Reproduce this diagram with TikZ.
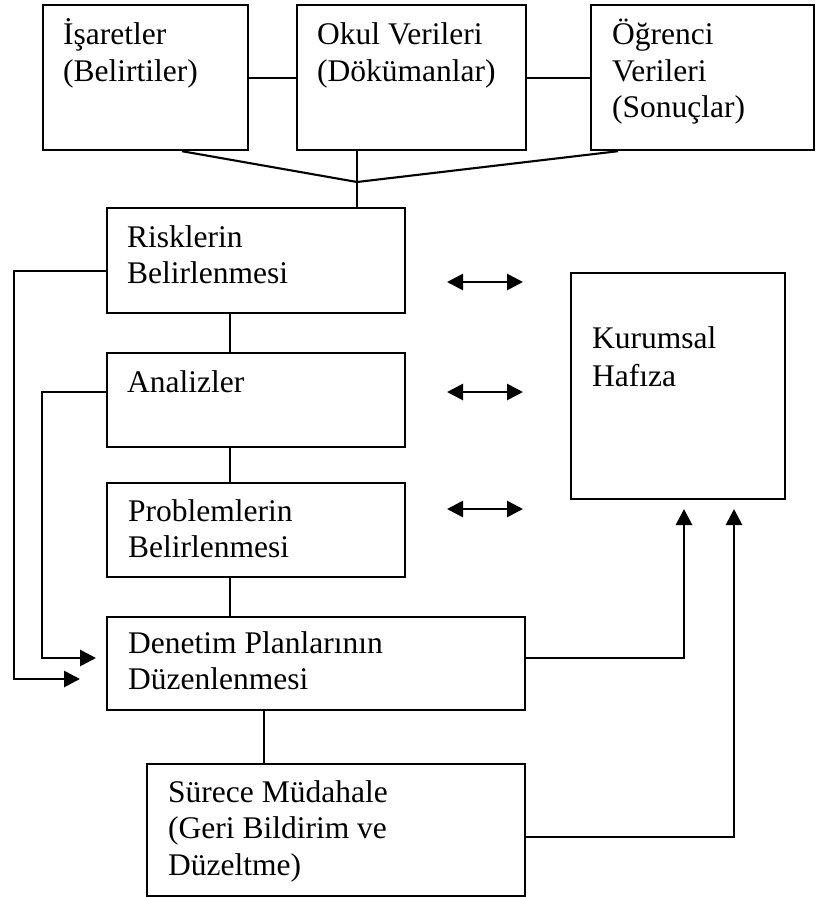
\documentclass[tikz,border=0pt]{standalone}
\usepackage{fontspec}
\setmainfont{Liberation Serif}
\usetikzlibrary{arrows.meta}
\begin{document}
\begin{tikzpicture}[x=1pt,y=-1pt,
  box/.style={draw, line width=2.2pt, rectangle, inner sep=0pt, anchor=north west},
  lbl/.style={anchor=base west, inner sep=0pt, font=\fontsize{31.5}{36.5}\selectfont},
  conn/.style={line width=2.1pt},
  arr/.style={line width=2.8pt, -{Triangle[length=16pt,width=16pt]}},
  darr/.style={line width=2.8pt, {Triangle[length=16pt,width=16pt]}-{Triangle[length=16pt,width=16pt]}}
]
\useasboundingbox[fill=white] (0,0) rectangle (816,897);

% boxes
\node[box, minimum width=205pt, minimum height=145pt] (isaret) at (42,4) {};
\node[box, minimum width=229pt, minimum height=145pt] (okul) at (296,4) {};
\node[box, minimum width=223pt, minimum height=145pt] (ogrenci) at (590,4) {};
\node[box, minimum width=298pt, minimum height=105pt] (risk) at (106,207) {};
\node[box, minimum width=298pt, minimum height=94pt] (analiz) at (106,352) {};
\node[box, minimum width=298pt, minimum height=94pt] (problem) at (106,482) {};
\node[box, minimum width=418pt, minimum height=93pt] (denetim) at (106,616) {};
\node[box, minimum width=378pt, minimum height=132pt] (surece) at (146,763) {};
\node[box, minimum width=214pt, minimum height=226pt] (kurumsal) at (570,272) {};

% texts
\node[lbl] (isaretT) at (63,44.5) {\begin{tabular}[t]{@{}l@{}}İşaretler\\(Belirtiler)\end{tabular}};
\node[lbl] (okulT) at (317,44.5) {\begin{tabular}[t]{@{}l@{}}Okul Verileri\\(Dökümanlar)\end{tabular}};
\node[lbl] (ogrenciT) at (612,44.5) {\begin{tabular}[t]{@{}l@{}}Öğrenci\\Verileri\\(Sonuçlar)\end{tabular}};
\node[lbl] (riskT) at (127,247) {\begin{tabular}[t]{@{}l@{}}Risklerin\\Belirlenmesi\end{tabular}};
\node[lbl] (analizT) at (127,392) {Analizler};
\node[lbl] (problemT) at (128,521) {\begin{tabular}[t]{@{}l@{}}Problemlerin\\Belirlenmesi\end{tabular}};
\node[lbl] (denetimT) at (128,653) {\begin{tabular}[t]{@{}l@{}}Denetim Planlarının\\Düzenlenmesi\end{tabular}};
\node[lbl] (sureceT) at (168,802) {\begin{tabular}[t]{@{}l@{}}Sürece Müdahale\\(Geri Bildirim ve\\Düzeltme)\end{tabular}};
\node[lbl] (kurumsalT) at (592,348) {\begin{tabular}[t]{@{}l@{}}Kurumsal\\[1.5pt]Hafıza\end{tabular}};

% top connectors
\draw[conn] (isaret.east) -- (okul.west);
\draw[conn] (okul.east) -- (ogrenci.west);
\coordinate (J) at (357,182);
\draw[conn] (isaret.south -| 182,0) -- (J);
\draw[conn] (ogrenci.south -| 618,0) -- (J);
\draw[conn] (okul.south -| 357,0) -- (risk.north -| 357,0);

% vertical chain
\draw[conn] (risk.south -| 230,0) -- (analiz.north -| 230,0);
\draw[conn] (analiz.south -| 230,0) -- (problem.north -| 230,0);
\draw[conn] (problem.south -| 230,0) -- (denetim.north -| 230,0);
\draw[conn] (denetim.south -| 264,0) -- (surece.north -| 264,0);

% left loops
\coordinate (t1) at (80,679);
\coordinate (t2) at (96,658);
\draw[arr] (risk.west |- 0,271) -| (t1 -| 14,0) -- (t1);
\draw[arr] (analiz.west |- 0,392) -| (t2 -| 42,0) -- (t2);

% double arrows
\coordinate (d1a) at (447,282); \coordinate (d1b) at (523,282);
\coordinate (d2a) at (447,392); \coordinate (d2b) at (523,392);
\coordinate (d3a) at (447,509); \coordinate (d3b) at (523,509);
\draw[darr] (d1a) -- (d1b);
\draw[darr] (d2a) -- (d2b);
\draw[darr] (d3a) -- (d3b);

% to Kurumsal Hafiza
\coordinate (k1) at (684,509);
\coordinate (k2) at (734,509);
\draw[arr] (denetim.east |- 0,658) -| (k1);
\draw[arr] (surece.east |- 0,837) -| (k2);
\end{tikzpicture}
\end{document}
